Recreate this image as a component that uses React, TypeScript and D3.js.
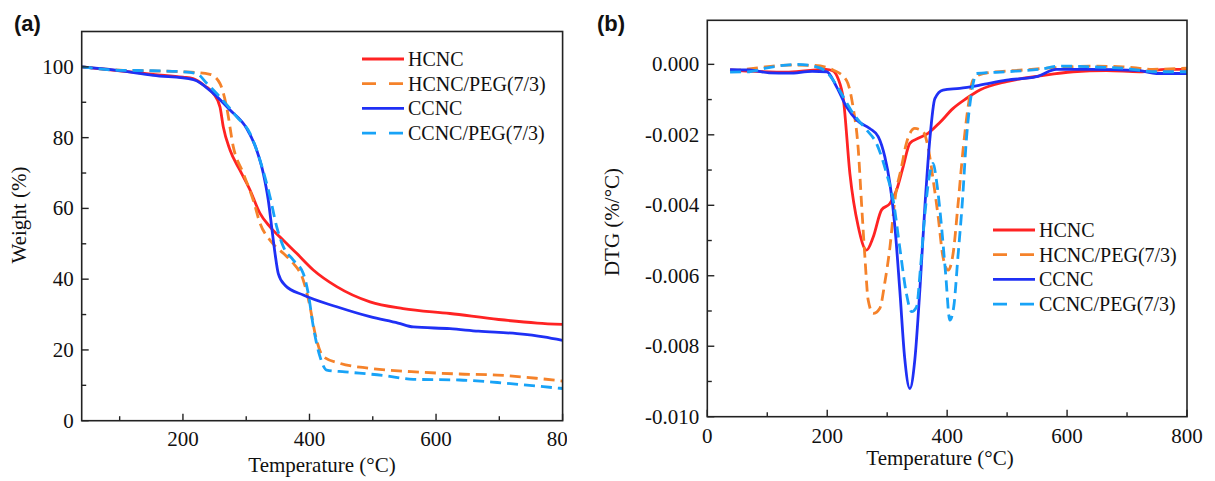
import React from "react";
import * as d3 from "d3";

type P = [number, number];

// ---- Panel (a): TGA weight (%) vs temperature ----
const tgaHCNC: P[] = [
  [40, 100], [100, 98.9], [153, 97.9], [200, 97.1], [216, 96.7], [235, 94.6], [248, 92.5], [258.5, 88.7],
  [263.8, 83], [274.4, 76.5], [290, 70.8], [306, 65.2], [321.8, 58.6], [337.6, 54.8], [358.6, 51],
  [379.7, 47.3], [406, 42.6], [443, 37.9], [495.6, 33.6], [548, 31.7], [622, 30.3], [699, 28.6],
  [760, 27.6], [800, 27.2],
];
const tgaHCNCPEG: P[] = [
  [40, 100], [100, 99.1], [141, 98.9], [202, 98.6], [242.7, 97.9], [258.5, 95.3], [269, 88.7],
  [279.6, 77.4], [295.4, 69.9], [311.2, 62.3], [321.8, 55.8], [337.6, 51], [358.6, 47.3], [374.4, 44.5],
  [390.2, 39.7], [400.8, 32.2], [408.7, 24.7], [421.8, 18.1], [448.2, 16.2], [495.6, 14.8], [576, 13.7],
  [637, 13.2], [697, 12.9], [758, 12], [800, 11.2],
];
const tgaCCNC: P[] = [
  [40, 100], [93, 99.1], [153, 97.6], [216.4, 96.4], [248, 92.5], [274.4, 87.8], [300.7, 82.6],
  [316.5, 76.5], [327, 69.9], [334.9, 62.3], [340.2, 54.8], [345.5, 47.3], [350.7, 41.6], [361.3, 38.3],
  [390.2, 35.5], [443, 32.2], [495.6, 29.4], [540, 27.6], [564, 26.5], [622, 26], [667, 25.3],
  [728, 24.6], [770, 23.7], [800, 22.7],
];
const tgaCCNCPEG: P[] = [
  [40, 100], [93, 99.1], [153, 98.9], [202, 98.6], [221.7, 98.1], [238, 95.3], [253.3, 92.5],
  [285, 85.9], [306, 81.2], [321.8, 73.6], [337.6, 63.3], [348.2, 54.8], [358.6, 49.2], [374.4, 45.4],
  [390.2, 41.6], [398, 36], [406, 26.6], [416.6, 18.1], [427.2, 14.3], [456, 13.8], [516, 12.8],
  [564, 11.7], [637, 11.5], [697, 10.8], [758, 9.8], [800, 9.1],
];

// ---- Panel (b): DTG (%/°C) vs temperature ----
const dtgHCNC: P[] = [
  [38, -0.00016], [84, -0.0002], [136, -0.00022], [198, -0.00014], [209, -0.00018], [218, -0.0004],
  [227, -0.001], [237.8, -0.0031], [251.7, -0.0046], [265.6, -0.00527], [276.7, -0.0049],
  [290.6, -0.00413], [304.5, -0.00395], [315.6, -0.00357], [326.7, -0.0029], [337.8, -0.00224],
  [351.7, -0.0021], [368, -0.00196], [387.8, -0.00165], [410, -0.00125], [432, -0.00097],
  [454.5, -0.00073], [499, -0.00049], [554.5, -0.00033], [610, -0.00021], [665.7, -0.00018],
  [721, -0.00021], [766, -0.00014], [800, -0.00014],
];
const dtgHCNCPEG: P[] = [
  [38, -0.0002], [84, -0.0001], [136, -0.00002], [175, -0.00003], [201, -0.0001], [209.6, -0.00016],
  [232, -0.00045], [243, -0.0012], [251.7, -0.0024], [257.4, -0.004], [262.8, -0.00546],
  [268.3, -0.00669], [276.7, -0.00707], [287.8, -0.00692], [296, -0.0062], [304.5, -0.0052],
  [312.8, -0.00385], [324, -0.0029], [332, -0.00224], [346, -0.00182], [360, -0.00191],
  [368, -0.00234], [376.7, -0.00328], [385, -0.00432], [393, -0.00546], [401.7, -0.00584],
  [410, -0.00536], [418, -0.004], [426.7, -0.0024], [435, -0.0012], [443, -0.00045], [460, -0.00026],
  [526, -0.00016], [565.7, -0.00011], [638, -0.00005], [693, -0.00007], [743, -0.00014], [800, -0.00011],
];
const dtgCCNC: P[] = [
  [38, -0.00015], [70, -0.00016], [103, -0.00024], [136, -0.00025], [175, -0.0002], [199, -0.00021],
  [215.6, -0.00064], [232, -0.0012], [249, -0.00158], [271, -0.00182], [285, -0.00205],
  [296, -0.00262], [304.5, -0.00338], [312.8, -0.0046], [321, -0.0064], [329, -0.0083],
  [337.8, -0.0092], [346, -0.0084], [354.5, -0.0064], [363, -0.004], [371, -0.00215],
  [379.5, -0.00097], [393, -0.00073], [421, -0.00068], [454.5, -0.00059], [499, -0.00045],
  [549, -0.00035], [582, -0.00014], [638, -0.00014], [721, -0.00018], [749, -0.00026], [800, -0.00026],
];
const dtgCCNCPEG: P[] = [
  [38, -0.00022], [70, -0.00021], [100, -0.0001], [150, 0], [182, -0.00007], [198, -0.0002],
  [210, -0.00045], [226.7, -0.00092], [243, -0.00139], [265.6, -0.00186], [282, -0.00224],
  [299, -0.0031], [310, -0.00385], [321, -0.0052], [332, -0.0065], [340.7, -0.00702],
  [349, -0.00688], [355.7, -0.00574], [363, -0.00423], [371, -0.0031], [376.7, -0.00281],
  [382, -0.00328], [390.6, -0.0046], [397.4, -0.00593], [404.5, -0.00726], [411, -0.00688],
  [418, -0.00546], [425.6, -0.00385], [432, -0.00215], [440.6, -0.00082], [449, -0.00026],
  [499, -0.00021], [554.5, -0.00014], [588, -0.00005], [638, -0.00007], [693, -0.00011],
  [749, -0.00021], [800, -0.00021],
];

const seriesNames = ["HCNC", "HCNC/PEG(7/3)", "CCNC", "CCNC/PEG(7/3)"];
const seriesColors = ["#ff2323", "#f5822a", "#1f30f5", "#18a3f7"];
const seriesDashed = [false, true, false, true];

const tgaSeries = [tgaHCNC, tgaHCNCPEG, tgaCCNC, tgaCCNCPEG];
const dtgSeries = [dtgHCNC, dtgHCNCPEG, dtgCCNC, dtgCCNCPEG];

const tgaXTicks = [200, 400, 600, 800];
const tgaXMinor = [100, 300, 500, 700];
const tgaYTicks = [0, 20, 40, 60, 80, 100];
const tgaYMinor = [10, 30, 50, 70, 90];
const dtgXTicks = [0, 200, 400, 600, 800];
const dtgXMinor = [100, 300, 500, 700];
const dtgYTicks = [0, -0.002, -0.004, -0.006, -0.008, -0.01];
const dtgYMinor = [-0.001, -0.003, -0.005, -0.007, -0.009];

const SERIF = "'Liberation Serif', 'Noto Serif', 'DejaVu Serif', 'FreeSerif', serif";
const SANS = "'Liberation Sans', Arial, sans-serif";

interface PanelProps {
  x0: number; x1: number; y0: number; y1: number;
  xDomain: [number, number]; yDomain: [number, number];
  xTicks: number[]; xMinor: number[]; yTicks: number[]; yMinor: number[];
  yFmt: (v: number) => string;
  data: P[][];
  yLabel: string; yLabelX: number; yLabelY: number;
  xLabelX: number; xLabelY: number; xTickY: number;
  legendX: number; legendY: number;
  clipId: string; clipRight: number;
}

function Panel(p: PanelProps) {
  const xs = d3.scaleLinear().domain(p.xDomain).range([p.x0, p.x1]);
  const ys = d3.scaleLinear().domain(p.yDomain).range([p.y1, p.y0]);
  const line = d3.line<P>().x((d) => xs(d[0])).y((d) => ys(d[1])).curve(d3.curveMonotoneX);
  const axisCol = "#222";
  return (
    <g>
      <defs>
        <clipPath id={p.clipId}>
          <rect x={0} y={0} width={p.clipRight} height={481} />
        </clipPath>
        <clipPath id={p.clipId + "-plot"}>
          <rect x={p.x0} y={p.y0} width={p.x1 - p.x0} height={p.y1 - p.y0} />
        </clipPath>
      </defs>
      <g clipPath={`url(#${p.clipId})`} fontFamily={SERIF} fill="#111">
        <g clipPath={`url(#${p.clipId}-plot)`}>
          {p.data.map((d, i) => (
            <path key={i} d={line(d) || ""} fill="none" stroke={seriesColors[i]} strokeWidth={2.8}
              strokeDasharray={seriesDashed[i] ? "11 6" : undefined} strokeLinejoin="round" />
          ))}
        </g>
        <rect x={p.x0} y={p.y0} width={p.x1 - p.x0} height={p.y1 - p.y0} fill="none" stroke={axisCol} strokeWidth={1.6} />
        {p.xTicks.map((t) => (
          <g key={"xt" + t}>
            <line x1={xs(t)} x2={xs(t)} y1={p.y1} y2={p.y1 - 7} stroke={axisCol} strokeWidth={1.4} />
            <text x={xs(t)} y={p.xTickY} textAnchor="middle" fontSize={21}>{t}</text>
          </g>
        ))}
        {p.xMinor.map((t) => (
          <line key={"xm" + t} x1={xs(t)} x2={xs(t)} y1={p.y1} y2={p.y1 - 4.5} stroke={axisCol} strokeWidth={1.4} />
        ))}
        {p.yTicks.map((t) => (
          <g key={"yt" + t}>
            <line x1={p.x0} x2={p.x0 + 7} y1={ys(t)} y2={ys(t)} stroke={axisCol} strokeWidth={1.4} />
            <text x={p.x0 - 8} y={ys(t) + 7} textAnchor="end" fontSize={21}>{p.yFmt(t)}</text>
          </g>
        ))}
        {p.yMinor.map((t) => (
          <line key={"ym" + t} x1={p.x0} x2={p.x0 + 4.5} y1={ys(t)} y2={ys(t)} stroke={axisCol} strokeWidth={1.4} />
        ))}
        <text x={p.xLabelX} y={p.xLabelY} textAnchor="middle" fontSize={21}>Temperature (°C)</text>
        <text transform={`translate(${p.yLabelX},${p.yLabelY}) rotate(-90)`} textAnchor="middle" fontSize={21} dy="0.35em">{p.yLabel}</text>
        {seriesNames.map((n, i) => {
          const cy = p.legendY + i * 24.7;
          return (
            <g key={n}>
              <line x1={p.legendX} x2={p.legendX + 42} y1={cy} y2={cy} stroke={seriesColors[i]} strokeWidth={2.8}
                strokeDasharray={seriesDashed[i] ? "14 13" : undefined} />
              <text x={p.legendX + 46} y={cy + 7} fontSize={20}>{n}</text>
            </g>
          );
        })}
      </g>
    </g>
  );
}

export default function App() {
  return (
    <svg width={1215} height={481} style={{ position: "absolute", left: 0, top: 0, background: "#fff" }}>
      <rect x={0} y={0} width={1215} height={481} fill="#fff" />
      <text x={14} y={31} fontWeight="bold" fontSize={22} fontFamily={SANS} fill="#111">(a)</text>
      <text x={597} y={31} fontWeight="bold" fontSize={22} fontFamily={SANS} fill="#111">(b)</text>
      <Panel
        x0={81.7} x1={562.6} y0={31.5} y1={420.7}
        xDomain={[40, 800]} yDomain={[0, 110]}
        xTicks={tgaXTicks} xMinor={tgaXMinor} yTicks={tgaYTicks} yMinor={tgaYMinor}
        yFmt={(v) => String(v)}
        data={tgaSeries}
        yLabel="Weight (%)" yLabelX={19} yLabelY={215}
        xLabelX={322} xLabelY={472} xTickY={446}
        legendX={362} legendY={59}
        clipId="clipA" clipRight={567}
      />
      <Panel
        x0={707.3} x1={1187} y0={20.3} y1={416.7}
        xDomain={[0, 800]} yDomain={[-0.01, 0.00125]}
        xTicks={dtgXTicks} xMinor={dtgXMinor} yTicks={dtgYTicks} yMinor={dtgYMinor}
        yFmt={(v) => d3.format(".3f")(v).replace("−", "-")}
        data={dtgSeries}
        yLabel="DTG (%/°C)" yLabelX={612} yLabelY={222}
        xLabelX={940} xLabelY={465} xTickY={443}
        legendX={993} legendY={230}
        clipId="clipB" clipRight={1215}
      />
    </svg>
  );
}
